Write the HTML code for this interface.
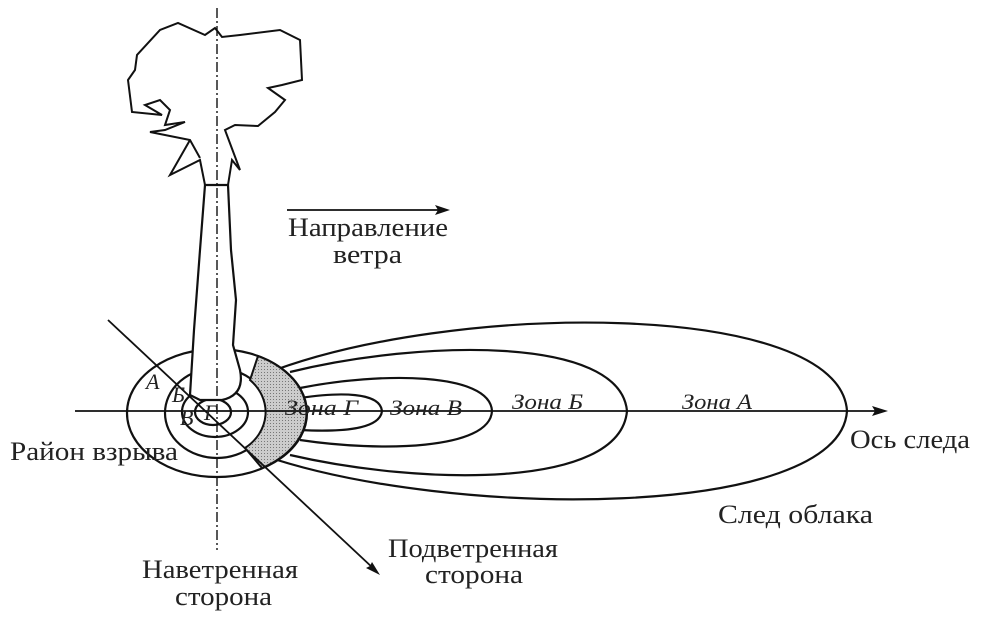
<!DOCTYPE html>
<html><head><meta charset="utf-8"><style>
html,body{margin:0;padding:0;background:#fff;}
svg{display:block;}
text{font-family:"Liberation Serif",serif;fill:#222;}
</style></head><body>
<svg width="985" height="619" viewBox="0 0 985 619" xmlns="http://www.w3.org/2000/svg">
<defs>
<pattern id="dots" width="3" height="3" patternUnits="userSpaceOnUse">
<rect width="3" height="3" fill="#ccc"/><rect width="1" height="1" fill="#777"/>
</pattern>
</defs>
<g fill="none" stroke="#111" stroke-width="2.2">
<path d="M262 375 C450 300,840 300,847 411 C840 520,450 520,262 455"/>
<path d="M290 372 C420 340,620 335,627 411 C620 490,420 485,290 455"/>
<path d="M300 388 C380 372,490 372,492 411 C490 450,380 452,300 440"/>
<path d="M300 398 C340 392,380 392,382 411 C380 430,340 432,300 430"/>
<ellipse cx="217" cy="413" rx="90" ry="64"/>
<ellipse cx="217" cy="413" rx="52" ry="45"/>
<ellipse cx="215" cy="412" rx="33" ry="25"/>
<ellipse cx="213" cy="412" rx="18" ry="13"/>
</g>
<path d="M258 356 A90 64 0 0 1 262 468 L245 448 A52 45 0 0 0 250 380 Z" fill="url(#dots)" stroke="#111" stroke-width="2"/>
<path d="M205 185 L200 250 L194 330 L190 395 L200 400 L222 400 Q245 395 240 370 L233 345 L236 300 L231 250 L228 185 Z" fill="#fff" stroke="#111" stroke-width="2.2"/>
<path d="M190 140 L170 175 L200 160 L205 185 M228 185 L232 160 L240 170 L225 130 L235 125 L258 126 L275 112 L285 100 L268 88 L282 85 L302 80 L300 40 L280 30 L240 35 L222 37 L215 28 L205 35 L178 23 L160 30 L137 55 L135 70 L128 80 L132 112 L162 115 L145 105 L160 100 L170 110 L165 125 L185 122 L165 130 L150 132 L190 140 L200 158"
 fill="none" stroke="#111" stroke-width="2"/>
<g stroke="#111" stroke-width="1.8" fill="none">
<line x1="75" y1="411" x2="880" y2="411"/>
<line x1="217" y1="8" x2="217" y2="550" stroke-dasharray="10,3,2,3" stroke-width="1.4"/>
<line x1="108" y1="320" x2="374" y2="569"/>
<line x1="287" y1="210" x2="440" y2="210"/>
</g>
<g fill="#111">
<path d="M888 411 L872 406 L875 411 L872 416 Z"/>
<path d="M450 210 L435 205 L438 210 L435 215 Z"/>
<path d="M380 575 L366 568 L370 566 L372 562 Z"/>
</g>
<g font-size="26">
<text x="288" y="236" textLength="160" lengthAdjust="spacingAndGlyphs">Направление</text>
<text x="333" y="263" textLength="69" lengthAdjust="spacingAndGlyphs">ветра</text>
<text x="10" y="460" textLength="168" lengthAdjust="spacingAndGlyphs">Район взрыва</text>
<text x="850" y="448" textLength="120" lengthAdjust="spacingAndGlyphs">Ось следа</text>
<text x="718" y="523" textLength="155" lengthAdjust="spacingAndGlyphs">След облака</text>
<text x="388" y="557" textLength="170" lengthAdjust="spacingAndGlyphs">Подветренная</text>
<text x="425" y="583" textLength="98" lengthAdjust="spacingAndGlyphs">сторона</text>
<text x="142" y="578" textLength="156" lengthAdjust="spacingAndGlyphs">Наветренная</text>
<text x="175" y="605" textLength="97" lengthAdjust="spacingAndGlyphs">сторона</text>
</g>
<g font-size="22" font-style="italic">
<text x="285" y="415" textLength="73" lengthAdjust="spacingAndGlyphs">Зона Г</text>
<text x="390" y="415" textLength="72" lengthAdjust="spacingAndGlyphs">Зона В</text>
<text x="512" y="409" textLength="71" lengthAdjust="spacingAndGlyphs">Зона Б</text>
<text x="682" y="409" textLength="70" lengthAdjust="spacingAndGlyphs">Зона А</text>
<text x="146" y="389">А</text>
<text x="172" y="402">Б</text>
<text x="180" y="425">В</text>
<text x="204" y="420">Г</text>
</g>
</svg>
</body></html>
